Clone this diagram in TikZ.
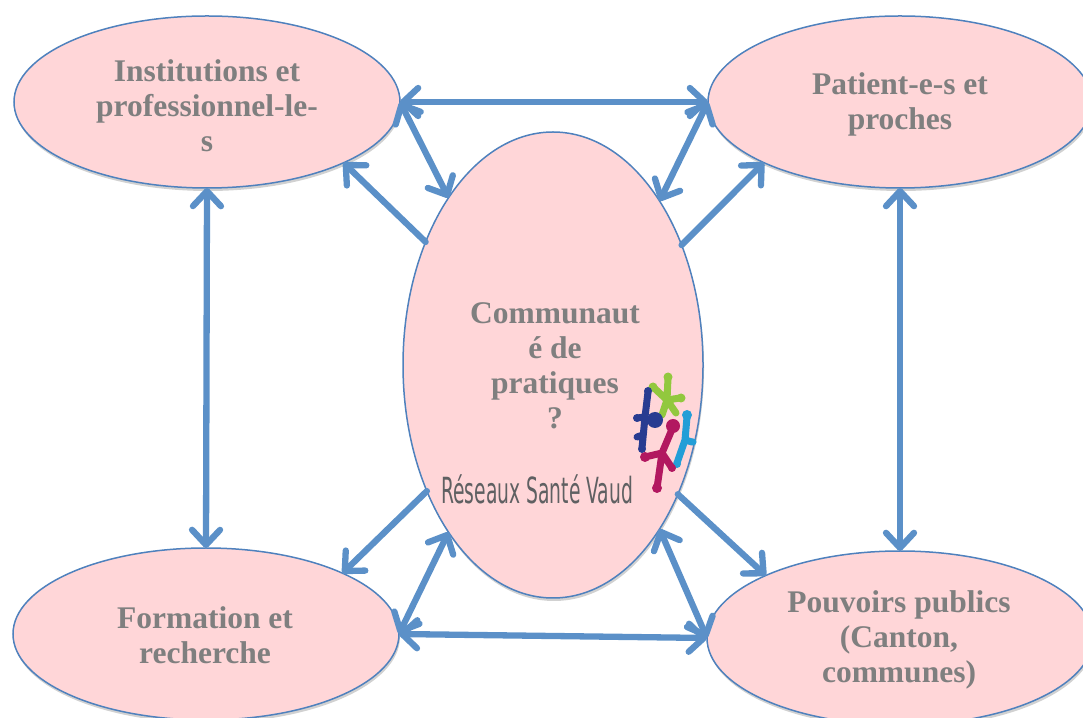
\documentclass[tikz,border=0pt]{standalone}
\usepackage{fontspec}
\setmainfont{Liberation Serif}
\newfontfamily\logofont[FakeStretch=0.52]{DejaVu Sans}
\usetikzlibrary{arrows.meta,shapes.geometric,shadows}
\definecolor{arrowc}{RGB}{91,144,200}
\definecolor{ellb}{RGB}{79,129,189}
\definecolor{ellf}{RGB}{255,214,216}
\definecolor{txtg}{RGB}{127,127,127}
\definecolor{logot}{RGB}{95,96,98}
\definecolor{lgreen}{RGB}{146,200,62}
\definecolor{lblue}{RGB}{40,60,145}
\definecolor{lmag}{RGB}{178,24,96}
\definecolor{lcyan}{RGB}{35,158,215}
\tikzset{
  ell/.style={ellipse, draw=ellb, line width=1.5pt, fill=ellf, inner sep=0pt, outer sep=0pt,
    drop shadow={shadow xshift=1pt, shadow yshift=-3pt, opacity=0.18, fill=black}},
  lbl/.style={font=\bfseries\fontsize{31.5}{35}\selectfont, text=txtg, align=center, inner sep=0pt},
  conn/.style={draw=arrowc, line width=6.3pt, line cap=round},
  >={Straight Barb[length=15pt,width=28pt,round]},
  limb/.style={line width=7pt, line cap=round, line join=round},
}
\begin{document}
\begin{tikzpicture}[x=1pt,y=1pt]
\useasboundingbox (0,0) rectangle (1083,717);
% ellipses
\node[ell, minimum width=386pt, minimum height=172pt] (TL) at (207,615) {};
\node[ell, minimum width=384pt, minimum height=172pt] (TR) at (900,615) {};
\node[ell, minimum width=386pt, minimum height=172pt] (BL) at (206,83) {};
\node[ell, minimum width=386pt, minimum height=174pt] (BR) at (900,79) {};
\node[ell, minimum width=300pt, minimum height=466pt] (C) at (553,352) {};
% labels
\node[lbl] (tlt) at (207,611) {Institutions et\\professionnel-le-\\s};
\node[lbl] (trt) at (900,613) {Patient-e-s et\\proches};
\node[lbl] (blt) at (205,82) {Formation et\\recherche};
\node[lbl] (brt) at (899,77) {Pouvoirs publics\\(Canton,\\communes)};
\node[lbl] (ct) at (555,351) {Communaut\\é de\\pratiques\\?};
\node[anchor=base west, inner sep=0pt, text=logot, font=\logofont\fontsize{36}{40}\selectfont] (logo) at (441,213) {Réseaux Santé Vaud};
% logo figures
\begin{scope}[limb]
  \draw[lgreen] (668,339) -- (667,317) (653,330) -- (667,317) -- (680,319) (662,302) -- (667,317) -- (676,304);
  \fill[lgreen] (668,340) circle (4.5pt) (653,330) circle (4.5pt) (681,319) circle (4.5pt);
  \draw[lblue] (648,325) -- (645,300) -- (642,269) (637,299) -- (645,300) (637,280) -- (643,282);
  \fill[lblue] (655,297) circle (8pt) (648,326) circle (4pt) (637,299) circle (4pt) (642,268) circle (4pt);
  \draw[lcyan] (687,300) -- (685,277) -- (677,254) (685,277) -- (692,275);
  \fill[lcyan] (687,302) circle (5pt) (677,253) circle (4pt) (693,275) circle (3.5pt);
  \draw[lmag] (673,290) -- (662,264) (645,260) -- (662,264) -- (657,229) (662,264) -- (672,249);
  \fill[lmag] (673,291) circle (7pt) (657,229) circle (5pt) (645,260) circle (5pt) (672,249) circle (4pt);
\end{scope}
% connectors
\draw[conn,<->] (TL.east) -- (TR.west);
\draw[conn,<->] (TL.east) -- (C.122);
\draw[conn,->] (C.136) -- (TL.336);
\draw[conn,<->] (TR.west) -- (C.57);
\draw[conn,->] (C.43) -- (TR.204);
\draw[conn,<->] (TL.south) -- (BL.north);
\draw[conn,<->] (TR.south) -- (BR.north);
\draw[conn,<->] (BL.east) -- (BR.west);
\draw[conn,->] (C.225) -- (BL.24);
\draw[conn,<->] (BL.east) -- (C.238);
\draw[conn,<->] (C.303) -- (BR.west);
\draw[conn,->] (C.314) -- (BR.155);
\end{tikzpicture}
\end{document}
